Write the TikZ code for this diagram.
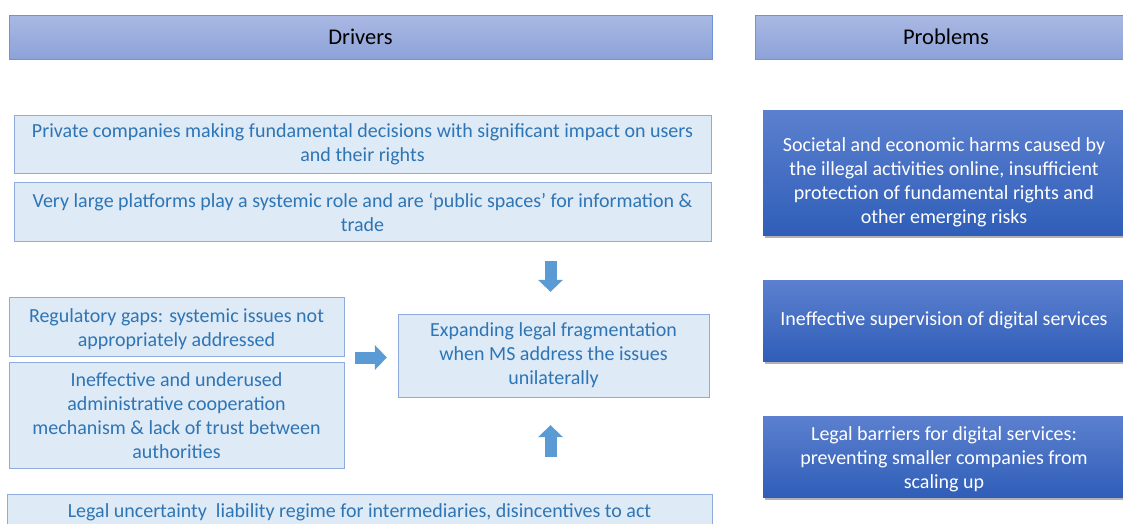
\documentclass[tikz,border=0pt]{standalone}
\usepackage{fontspec}
\setmainfont{Carlito}
\usetikzlibrary{positioning, shadows, arrows.meta, calc}

\definecolor{hdrtop}{HTML}{AAB9E3}
\definecolor{hdrbot}{HTML}{8CA2D8}
\definecolor{hdrline}{HTML}{6F93D6}
\definecolor{drvfill}{HTML}{DEEAF6}
\definecolor{drvline}{HTML}{8FAADC}
\definecolor{drvtext}{HTML}{2E75B6}
\definecolor{prbtop}{HTML}{5C80CF}
\definecolor{prbbot}{HTML}{2F5EB8}
\definecolor{arrowblue}{HTML}{5B9BD5}

\begin{document}
\begin{tikzpicture}[x=1pt, y=-1pt,
    header/.style={draw=hdrline, top color=hdrtop, bottom color=hdrbot, minimum height=44pt, inner sep=0pt, font=\fontsize{22.5}{27}\selectfont},
    driver/.style={draw=drvline, fill=drvfill, text=drvtext, align=center, inner sep=0pt, font=\fontsize{20}{24}\selectfont},
    problem/.style={top color=prbtop, bottom color=prbbot, text=white, align=center, inner sep=0pt, minimum width=362pt, font=\fontsize{20}{24}\selectfont,
        drop shadow={shadow xshift=2pt, shadow yshift=-3pt, fill=black, opacity=0.3}},
    blockarrow/.style={draw=arrowblue, line width=12pt, -{Triangle[width=25pt, length=12pt, line width=0pt]}},
    every node/.style={node distance=9pt}
    ]
    \useasboundingbox (0,0) rectangle (1123,523);
    \clip (0,0) rectangle (1123,523);

    % column headers
    \node[header, minimum width=703pt] (drivers) at (360.5,37) {Drivers};
    \node[header, minimum width=382pt] (problems) at (946,37) {Problems};

    % drivers
    \node[driver, minimum width=697pt, minimum height=58pt] (private) at (362.5,144)
        {Private companies making fundamental decisions with significant impact on users\\and their rights};
    \node[driver, minimum width=697pt, minimum height=59pt, below=of private] (platforms)
        {Very large platforms play a systemic role and are ‘public spaces’ for information \&\\trade};
    \node[driver, minimum width=335pt, minimum height=59pt, text height=43pt] (gaps) at (176.5,326.5)
        {Regulatory gaps: systemic issues not\\appropriately addressed};
    \node[driver, minimum width=335pt, minimum height=106pt, below=6pt of gaps] (coop)
        {Ineffective and underused\\administrative cooperation\\mechanism \& lack of trust between\\authorities};
    \node[driver, minimum width=311pt, minimum height=83pt] (frag) at (553.5,355.5)
        {Expanding legal fragmentation\\when MS address the issues\\unilaterally};
    \node[driver, minimum width=705pt, anchor=north, text height=23pt, text depth=20pt] (liab) at (359.5,494)
        {Legal uncertainty\ \ liability regime for intermediaries, disincentives to act};

    % problems
    \node[problem, minimum height=125pt, text height=105pt] (harms) at (944,172.5)
        {Societal and economic harms caused by\\the illegal activities online, insufficient\\protection of fundamental rights and\\other emerging risks};
    \node[problem, minimum height=81pt] (superv) at (944,320.5)
        {Ineffective supervision of digital services};
    \node[problem, minimum height=81pt, text height=68pt] (barriers) at (944,456.5)
        {Legal barriers for digital services:\\preventing smaller companies from\\scaling up};

    % block arrows into the fragmentation box
    \coordinate (dn) at ($(frag.north)+(-3,-53)$);
    \coordinate (up) at ($(frag.south)+(-3,60)$);
    \coordinate (rt) at ($(frag.west)+(-43,2)$);
    \draw[blockarrow, shorten >=22pt] (dn) -- (dn |- frag.north);
    \draw[blockarrow, shorten >=28pt] (up) -- (up |- frag.south);
    \draw[blockarrow, shorten >=11pt] (rt) -- (rt -| frag.west);
\end{tikzpicture}
\end{document}
